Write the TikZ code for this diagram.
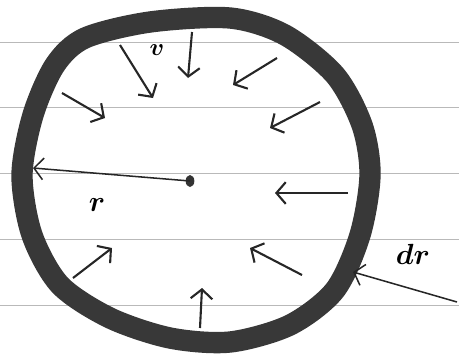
\documentclass[tikz,border=0pt]{standalone}
\usepackage{amsmath}
\usepackage{tikz}
\usetikzlibrary{arrows.meta}
\tikzset{
  ruled/.style={gray!55, line width=0.5pt},
  ring/.style={black!78, line width=0.64cm},
  push/.style={-{Straight Barb[length=2.8mm,width=6.5mm]}, line width=1.8pt, black!85},
  handlbl/.style={font=\fontsize{30}{32}\selectfont},
}
\begin{document}
\begin{tikzpicture}[x=0.03cm,y=-0.03cm]
    \useasboundingbox (0,0) rectangle (459,353);
    % ruled paper
    \foreach \h in {42,107,173,239,305} {
        \draw[ruled] (0,\h) -- (459,\h);
    }
    % the shell
    \draw[ring] plot[smooth cycle] coordinates {(85,38) (150,22) (230,18) (285,35) (335,75) (362,125) (370,175) (360,235) (335,290) (290,325) (230,342) (170,338) (110,318) (60,285) (32,235) (22,175) (33,115) (55,65)};
    \coordinate (o) at (190,181);
    \fill[black!80] (o) ellipse (1.3mm and 1.8mm);
    \coordinate (rim) at (33,168);
    \draw[push, line width=1.3pt] (o) -- (rim);
    % inward arrows
    \draw[push] (120,45) -- (153,98);
    \draw[push] (192,32) -- (188,78);
    \draw[push] (277,58) -- (233,85);
    \draw[push] (320,102) -- (270,128);
    \draw[push] (62,93) -- (105,118);
    \draw[push] (348,193) -- (275,193);
    \draw[push] (302,275) -- (250,248);
    \draw[push] (73,278) -- (112,248);
    \draw[push] (200,328) -- (202,288);
    % thickness
    \draw[push, line width=1.3pt] (457,302) -- (353,272);
    \node[handlbl, font=\fontsize{22}{24}\selectfont] (vlbl) at (157,50) {$\boldsymbol{v}$};
    \node[handlbl] (rlbl) at (97,205) {$\boldsymbol{r}$};
    \node[handlbl, font=\fontsize{36}{38}\selectfont] (drlbl) at (413,254) {$\boldsymbol{dr}$};
\end{tikzpicture}
\end{document}
